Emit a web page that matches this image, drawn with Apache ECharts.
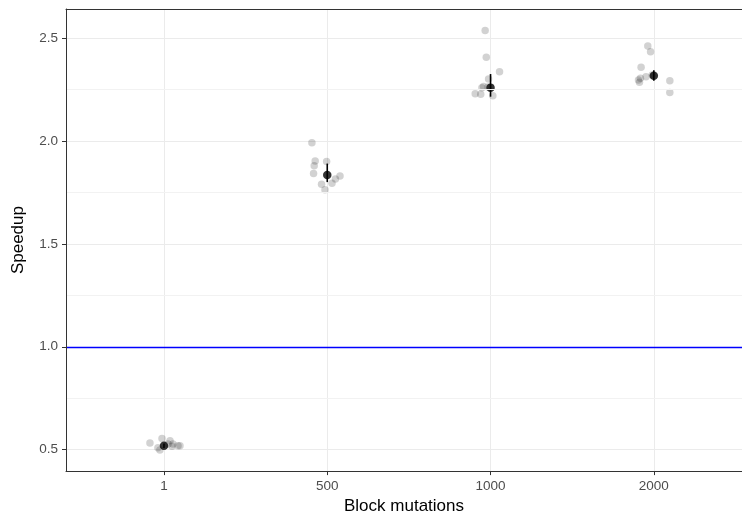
<!DOCTYPE html>
<html>
<head>
<meta charset="utf-8">
<script src="https://cdn.jsdelivr.net/npm/echarts@6/dist/echarts.min.js"></script>
<style>
  html, body { margin: 0; padding: 0; background: #fff; }
  #chart { width: 742px; height: 520px; }
</style>
</head>
<body>
<div id="chart"></div>
<script>
// categories on x (placed at 1..4), jittered runs as [x, speedup]
const categories = ['1', '500', '1000', '2000'];
const runs1 = [[0.914, 0.533], [0.988, 0.554], [1.037, 0.543], [1.049, 0.517], [1.098, 0.519],
  [1.086, 0.519], [0.975, 0.498], [0.963, 0.509], [1.025, 0.528], [1.055, 0.528]];
const runs500 = [[1.906, 1.991], [1.926, 1.903], [1.996, 1.900], [1.920, 1.879], [1.916, 1.842],
  [1.965, 1.790], [1.986, 1.763], [2.029, 1.795], [2.050, 1.815], [2.078, 1.830]];
const runs1000 = [[2.967, 2.537], [2.974, 2.406], [3.055, 2.336], [2.988, 2.301], [2.957, 2.264],
  [2.947, 2.259], [2.906, 2.229], [2.940, 2.227], [3.014, 2.219], [2.985, 2.262]];
const runs2000 = [[3.963, 2.461], [3.980, 2.433], [3.922, 2.358], [3.918, 2.304], [3.906, 2.296],
  [3.912, 2.285], [3.952, 2.312], [4.098, 2.293], [4.098, 2.235], [3.990, 2.320]];
const meanSpeedup = [0.519, 1.834, 2.259, 2.317];
const errLow = [0.508, 1.800, 2.215, 2.293];
const errHigh = [0.530, 1.890, 2.325, 2.344];
const yTicks = [0.5, 1.0, 1.5, 2.0, 2.5];
const yMinor = [0.75, 1.25, 1.75, 2.25];
const baseline = 1.0;

const chart = echarts.init(document.getElementById('chart'));
const labelFont = 'Liberation Sans, Arial, sans-serif';
const allRuns = runs1.concat(runs500, runs1000, runs2000);
const means = meanSpeedup.map((v, i) => [i + 1, v]);
const bars = meanSpeedup.map((v, i) => [i + 1, errLow[i], errHigh[i]]);
const border = { show: true, lineStyle: { color: '#333', width: 1 } };
const xRange = { min: 0.4, max: 4.54 };
const yRange = { min: 0.396, max: 2.641 };

chart.setOption({
  animation: false,
  // panel is open on the right (cut off in the original), so borders come from axis lines
  grid: { left: 66, top: 9, right: 0, bottom: 46 },
  xAxis: [{
    type: 'value', ...xRange,
    name: 'Block mutations', nameLocation: 'middle', nameGap: 25,
    nameTextStyle: { fontFamily: labelFont, fontSize: 17, color: '#000' },
    axisLine: border,
    axisTick: { show: true, length: 4, customValues: [1, 2, 3, 4], lineStyle: { color: '#333' } },
    axisLabel: { customValues: [1, 2, 3, 4], formatter: v => categories[Math.round(v) - 1],
      fontFamily: labelFont, fontSize: 13.5, color: '#4d4d4d', margin: 8 },
    splitLine: { show: true, lineStyle: { color: '#ebebeb', width: 1 } }
  }, {
    type: 'value', position: 'top', ...xRange, z: 10,
    axisLine: border, axisTick: { show: false }, axisLabel: { show: false }, splitLine: { show: false }
  }],
  yAxis: [{
    type: 'value', ...yRange,
    name: 'Speedup', nameLocation: 'middle', nameGap: 39, nameRotate: 90,
    nameTextStyle: { fontFamily: labelFont, fontSize: 17, color: '#000' },
    axisLine: { show: false },
    axisTick: { show: true, length: 4, customValues: yTicks, lineStyle: { color: '#333' } },
    axisLabel: { customValues: yTicks, formatter: v => v.toFixed(1),
      fontFamily: labelFont, fontSize: 13.5, color: '#4d4d4d', margin: 8 },
    splitLine: { show: true, lineStyle: { color: '#ebebeb', width: 1 } }
  }, {
    // left border drawn above the grid lines
    type: 'value', position: 'left', ...yRange, z: 10,
    axisLine: border, axisTick: { show: false }, axisLabel: { show: false }, splitLine: { show: false }
  }],
  series: [
    {
      type: 'scatter', data: [], z: -1,
      markLine: {
        silent: true, symbol: 'none', label: { show: false },
        data: yMinor.map(v => ({ yAxis: v })),
        lineStyle: { color: '#f2f2f2', width: 1, type: 'solid' }
      }
    },
    {
      type: 'scatter', data: allRuns, symbolSize: 7.5,
      itemStyle: { color: 'rgba(0,0,0,0.22)' },
      markLine: {
        silent: true, symbol: 'none', label: { show: false },
        data: [{ yAxis: baseline }],
        lineStyle: { color: '#0000ff', width: 1.3, type: 'solid' }
      },
      z: 2
    },
    {
      type: 'custom', data: bars, z: 3,
      renderItem: (params, api) => {
        const a = api.coord([api.value(0), api.value(1)]);
        const b = api.coord([api.value(0), api.value(2)]);
        return { type: 'line', shape: { x1: a[0], y1: a[1], x2: b[0], y2: b[1] },
          style: { stroke: '#000', lineWidth: 1.6 } };
      }
    },
    { type: 'scatter', data: means, symbolSize: 8.5, itemStyle: { color: '#000' }, z: 4 }
  ]
});
</script>
</body>
</html>
